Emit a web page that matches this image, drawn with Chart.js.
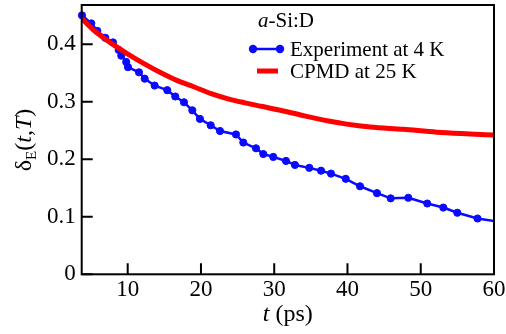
<!DOCTYPE html>
<html><head><meta charset="utf-8">
<script src="https://cdn.jsdelivr.net/npm/chart.js@4/dist/chart.umd.min.js"></script>
<style>html,body{margin:0;padding:0;background:#fff}#wrap{width:506px;height:334px}</style>
</head><body><div id="wrap"><canvas id="c" width="506" height="334"></canvas></div>
<script>
// Experiment at 4 K (blue, markers)
const expT = [3.76,5.03,5.85,6.94,7.99,8.77,9.12,9.80,10.04,11.54,12.32,13.68,15.40,16.49,17.68,18.82,19.86,21.33,22.60,24.78,25.78,27.51,28.51,29.87,31.61,32.83,34.79,36.39,37.75,39.76,41.71,44.03,45.90,48.30,50.89,53.08,54.99,57.75,60.4];
const expDelta = [0.450,0.436,0.423,0.411,0.403,0.390,0.380,0.369,0.360,0.351,0.340,0.328,0.320,0.309,0.299,0.285,0.270,0.259,0.249,0.243,0.229,0.219,0.209,0.204,0.197,0.190,0.185,0.180,0.175,0.166,0.153,0.141,0.132,0.133,0.123,0.116,0.107,0.097,0.092];
// CPMD at 25 K (red line)
const cpmdT = [3.76,5.3,7.58,9.86,12.1,14.4,16.7,19.0,21.4,23.7,26.0,28.2,30.5,33.9,37.6,39.9,43.1,47.6,52.2,56.7,60];
const cpmdDelta = [0.444,0.425,0.403,0.384,0.367,0.351,0.337,0.326,0.314,0.305,0.298,0.292,0.286,0.276,0.266,0.261,0.256,0.252,0.247,0.244,0.242];
const xTicks = [10,20,30,40,50,60];
const yTicks = [0,0.1,0.2,0.3,0.4];
const seriesLabels = ['Experiment at 4 K','CPMD at 25 K'];
const legendTitleItalic = 'a';
const legendTitleRest = '-Si:D';
const xTitleItalic = 't';
const xTitleRest = ' (ps)';
const yTitleMain = 'δ', yTitleSub = 'E', yTitleArgs = ['(', 't', ',', 'T', ')'];

const BLUE = '#0a0aff', RED = '#ff0000';
const SERIF = "'Liberation Serif', 'Times New Roman', serif";
Chart.defaults.font.family = SERIF;
Chart.defaults.color = '#000';

const decor = {
  id: 'decor',
  afterDraw(chart) {
    const ctx = chart.ctx, a = chart.chartArea;
    const xs = chart.scales.x, ys = chart.scales.y;
    ctx.save();
    ctx.strokeStyle = '#000'; ctx.lineWidth = 2;
    ctx.strokeRect(a.left, a.top, a.right - a.left, a.bottom - a.top);
    ctx.beginPath();
    xTicks.forEach(v => { const p = xs.getPixelForValue(v); ctx.moveTo(p, a.bottom); ctx.lineTo(p, a.bottom - 11); });
    yTicks.forEach(v => { const p = ys.getPixelForValue(v); ctx.moveTo(a.left, p); ctx.lineTo(a.left + 11, p); });
    ctx.stroke();

    // legend
    ctx.fillStyle = '#000';
    ctx.textBaseline = 'alphabetic';
    ctx.font = 'italic 21px ' + SERIF;
    let x = 258; ctx.fillText(legendTitleItalic, x, 27);
    x += ctx.measureText(legendTitleItalic).width;
    ctx.font = '21px ' + SERIF; ctx.fillText(legendTitleRest, x, 27);
    // row 1
    ctx.strokeStyle = BLUE; ctx.lineWidth = 2.5;
    ctx.beginPath(); ctx.moveTo(253, 49); ctx.lineTo(280, 49); ctx.stroke();
    ctx.fillStyle = BLUE;
    [253, 280].forEach(cx => { ctx.beginPath(); ctx.arc(cx, 49, 4.2, 0, Math.PI * 2); ctx.fill(); });
    ctx.fillStyle = '#000'; ctx.font = '21px ' + SERIF;
    ctx.fillText(seriesLabels[0], 290, 55.5);
    // row 2
    ctx.strokeStyle = RED; ctx.lineWidth = 5;
    ctx.beginPath(); ctx.moveTo(257, 71); ctx.lineTo(278, 71); ctx.stroke();
    ctx.fillText(seriesLabels[1], 290, 78);

    // x title
    ctx.font = 'italic 24px ' + SERIF;
    const w1 = ctx.measureText(xTitleItalic).width;
    ctx.font = '24px ' + SERIF;
    const w2 = ctx.measureText(xTitleRest).width;
    const cx = (a.left + a.right) / 2;
    let sx = cx - (w1 + w2) / 2;
    ctx.font = 'italic 24px ' + SERIF; ctx.fillText(xTitleItalic, sx, 321);
    ctx.font = '24px ' + SERIF; ctx.fillText(xTitleRest, sx + w1, 321);

    // y title (rotated)
    ctx.save();
    ctx.translate(0, 140);
    ctx.rotate(-Math.PI / 2);
    const parts = [
      {t: yTitleMain, f: '24px ' + SERIF, dy: 31},
      {t: yTitleSub, f: '15px ' + SERIF, dy: 36},
      {t: yTitleArgs[0], f: '24px ' + SERIF, dy: 31},
      {t: yTitleArgs[1], f: 'italic 24px ' + SERIF, dy: 31},
      {t: yTitleArgs[2], f: '24px ' + SERIF, dy: 31},
      {t: yTitleArgs[3], f: 'italic 24px ' + SERIF, dy: 31},
      {t: yTitleArgs[4], f: '24px ' + SERIF, dy: 31}
    ];
    let tot = 0;
    parts.forEach(p => { ctx.font = p.f; p.w = ctx.measureText(p.t).width; tot += p.w; });
    let px = -tot / 2;
    parts.forEach(p => { ctx.font = p.f; ctx.fillText(p.t, px, p.dy); px += p.w; });
    ctx.restore();
    ctx.restore();
  }
};

new Chart(document.getElementById('c'), {
  type: 'line',
  data: {
    datasets: [
      {
        label: seriesLabels[1],
        data: cpmdT.map((t, i) => ({x: t, y: cpmdDelta[i]})),
        borderColor: RED, borderWidth: 5, pointRadius: 0,
        cubicInterpolationMode: 'monotone', fill: false, order: 0
      },
      {
        label: seriesLabels[0],
        data: expT.map((t, i) => ({x: t, y: expDelta[i]})),
        borderColor: BLUE, backgroundColor: BLUE, borderWidth: 2.5,
        pointRadius: 3.6, pointBorderWidth: 1, pointBackgroundColor: BLUE, pointBorderColor: BLUE,
        tension: 0, fill: false, order: 1,
        clip: {left: 8, top: 8, right: 0, bottom: 8}
      }
    ]
  },
  options: {
    responsive: false, animation: false, devicePixelRatio: 1,
    layout: {padding: {top: 1, right: 12, left: 0, bottom: 0}},
    plugins: {legend: {display: false}, tooltip: {enabled: false}},
    scales: {
      x: {
        type: 'linear', min: 3.72, max: 60,
        afterFit: s => { s.height = 59.7; s.paddingLeft = 0; s.paddingRight = 0; },
        afterBuildTicks: s => { s.ticks = xTicks.map(v => ({value: v})); },
        grid: {display: false, drawTicks: false},
        border: {display: false},
        ticks: {font: {family: SERIF, size: 23}, color: '#000', padding: 2, maxRotation: 0, autoSkip: false}
      },
      y: {
        type: 'linear', min: 0, max: 0.468,
        afterFit: s => { s.width = 81.7; s.paddingTop = 0; s.paddingBottom = 0; },
        afterBuildTicks: s => { s.ticks = yTicks.map(v => ({value: v})); },
        grid: {display: false, drawTicks: false},
        border: {display: false},
        ticks: {font: {family: SERIF, size: 23}, color: '#000', padding: 6, autoSkip: false}
      }
    }
  },
  plugins: [decor]
});
</script></body></html>
